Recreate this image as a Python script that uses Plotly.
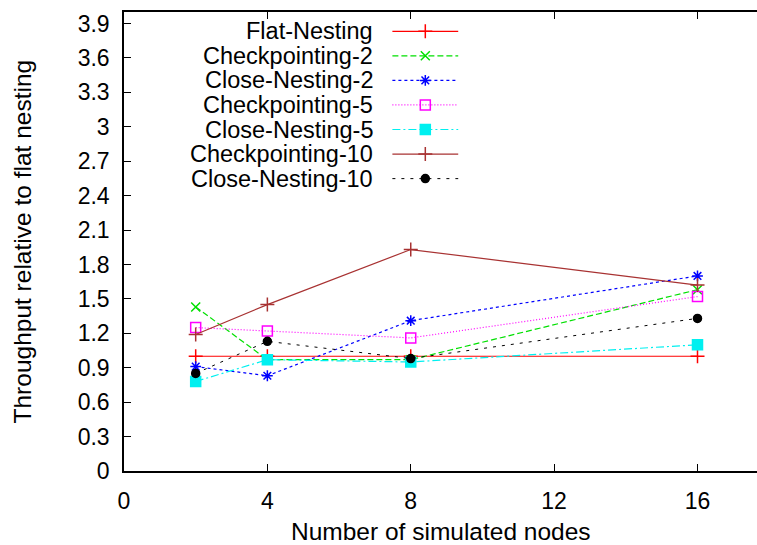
import plotly.graph_objects as go

# Number of simulated nodes
nodes = [2, 4, 8, 16]

# Throughput relative to flat nesting, per configuration
flat_nesting = [1.00, 1.00, 1.00, 1.00]
checkpointing_2 = [1.43, 0.97, 0.97, 1.58]
close_nesting_2 = [0.91, 0.83, 1.31, 1.70]
checkpointing_5 = [1.25, 1.22, 1.16, 1.52]
close_nesting_5 = [0.78, 0.97, 0.95, 1.10]
checkpointing_10 = [1.19, 1.45, 1.93, 1.62]
close_nesting_10 = [0.85, 1.13, 0.98, 1.33]

x_ticks = [0, 4, 8, 12, 16]
y_ticks = [0, 0.3, 0.6, 0.9, 1.2, 1.5, 1.8, 2.1, 2.4, 2.7, 3.0, 3.3, 3.6, 3.9]
y_tick_text = ["0", "0.3", "0.6", "0.9", "1.2", "1.5", "1.8", "2.1", "2.4", "2.7", "3", "3.3", "3.6", "3.9"]

FONT = "Liberation Sans, Arial, sans-serif"

series = [
    ("Flat-Nesting", flat_nesting, "#ff0000", "solid", "cross-thin", 10, 1.2),
    ("Checkpointing-2", checkpointing_2, "#00e000", "6px,3px", "x-thin", 9, 1.2),
    ("Close-Nesting-2", close_nesting_2, "#0000ff", "3px,3px", "asterisk", 9, 1.2),
    ("Checkpointing-5", checkpointing_5, "#ff00ff", "1px,2px", "square-open", 10, 1.2),
    ("Close-Nesting-5", close_nesting_5, "#00f0f0", "8px,3px,2px,3px", "square", 10, 1.2),
    ("Checkpointing-10", checkpointing_10, "#a83232", "solid", "cross-thin", 10, 1.2),
    ("Close-Nesting-10", close_nesting_10, "#000000", "3px,6px", "circle", 8, 1.0),
]

fig = go.Figure()

for name, vals, color, dash, symbol, size, width in series:
    fig.add_trace(go.Scatter(
        x=nodes, y=vals, name=name, mode="lines+markers",
        line=dict(color=color, dash=dash, width=width),
        marker=dict(symbol=symbol, size=size, color=color,
                    line=dict(color=color, width=1.5)),
        showlegend=False,
    ))

# Key drawn in gnuplot style: label on the left, sample on the right
key_text_x = 0.397
key_line = [0.424, 0.528]
key_top = 0.958
key_step = 0.0535
annotations = []
for i, (name, vals, color, dash, symbol, size, width) in enumerate(series):
    ky = key_top - i * key_step
    annotations.append(dict(
        x=key_text_x, y=ky, xref="paper", yref="paper", text=name,
        showarrow=False, xanchor="right", yanchor="middle",
        font=dict(family=FONT, size=23.5, color="#000000"),
    ))
    fig.add_trace(go.Scatter(
        x=key_line, y=[ky, ky], xaxis="x2", yaxis="y2", mode="lines",
        line=dict(color=color, dash=dash, width=width),
        showlegend=False, hoverinfo="skip",
    ))
    fig.add_trace(go.Scatter(
        x=[sum(key_line) / 2], y=[ky], xaxis="x2", yaxis="y2", mode="markers",
        marker=dict(symbol=symbol, size=size, color=color,
                    line=dict(color=color, width=1.5)),
        showlegend=False, hoverinfo="skip",
    ))

annotations.append(dict(
    x=0.5, y=0.0, xref="paper", yref="paper",
    text="Number of simulated nodes", showarrow=False,
    xanchor="center", yanchor="top", yshift=-45,
    font=dict(family=FONT, size=24.5, color="#000000"),
))
annotations.append(dict(
    x=0, y=0.5, xref="paper", yref="paper",
    text="Throughput relative to flat nesting", showarrow=False,
    xanchor="center", yanchor="middle", xshift=-102, textangle=-90,
    font=dict(family=FONT, size=24.5, color="#000000"),
))

fig.update_layout(
    width=757, height=545,
    margin=dict(l=124, r=0, t=12, b=74),
    paper_bgcolor="white", plot_bgcolor="white",
    font=dict(family=FONT, size=23, color="#000000"),
    annotations=annotations,
    xaxis=dict(
        range=[0, 17.66], tickvals=x_ticks, ticktext=[str(v) for v in x_ticks],
        ticks="inside", ticklen=7, tickcolor="#000", tickwidth=1,
        showline=True, linecolor="#000", linewidth=1.5, mirror="ticks",
        showgrid=False, zeroline=False, ticklabelstandoff=9,
        tickfont=dict(family=FONT, size=23),
    ),
    yaxis=dict(
        range=[0, 4.0], tickvals=y_ticks, ticktext=y_tick_text,
        ticks="inside", ticklen=7, tickcolor="#000", tickwidth=1,
        showline=True, linecolor="#000", linewidth=1.5, mirror=False,
        showgrid=False, zeroline=False, ticklabelstandoff=8,
        tickfont=dict(family=FONT, size=23),
    ),
    xaxis2=dict(range=[0, 1], overlaying="x", visible=False, fixedrange=True),
    yaxis2=dict(range=[0, 1], overlaying="y", visible=False, fixedrange=True),
)

fig.write_html("out.html")
